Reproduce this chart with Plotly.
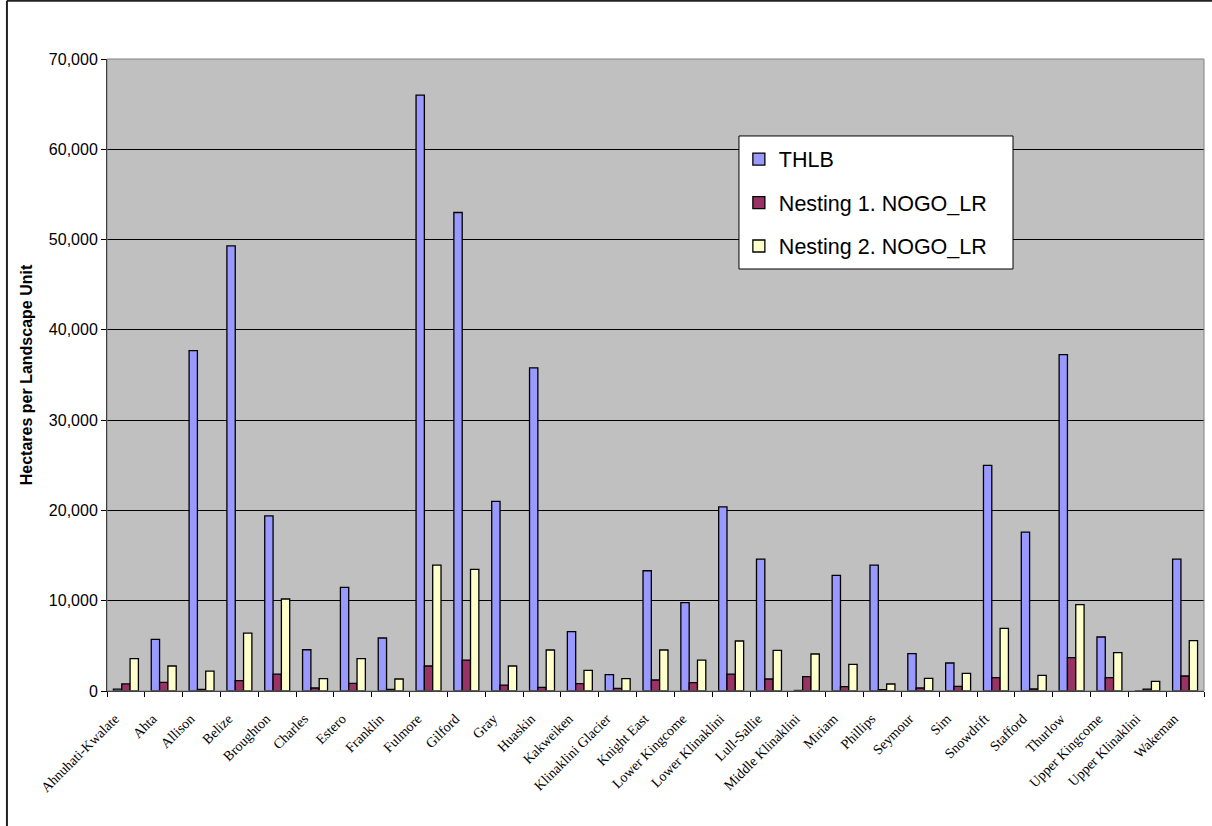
import plotly.graph_objects as go

units = [
    "Ahnuhati-Kwalate", "Ahta", "Allison", "Belize", "Broughton", "Charles",
    "Estero", "Franklin", "Fulmore", "Gilford", "Gray", "Huaskin", "Kakweiken",
    "Klinaklini Glacier", "Knight East", "Lower Kingcome", "Lower Klinaklini",
    "Lull-Sallie", "Middle Klinaklini", "Miriam", "Phillips", "Seymour", "Sim",
    "Snowdrift", "Stafford", "Thurlow", "Upper Kingcome", "Upper Klinaklini",
    "Wakeman",
]

thlb = [
    200, 5720, 37700, 49300, 19400, 4570,
    11480, 5870, 66000, 53000, 21000, 35800, 6570,
    1810, 13320, 9780, 20400,
    14600, 60, 12800, 13950, 4140, 3100,
    25000, 17600, 37250, 5980, 0,
    14600,
]

nesting1 = [
    780, 960, 190, 1140, 1880, 330,
    850, 190, 2770, 3430, 660, 410, 810,
    300, 1220, 920, 1880,
    1330, 1590, 480, 150, 330, 520,
    1480, 220, 3690, 1480, 200,
    1660,
]

nesting2 = [
    3580, 2770, 2210, 6420, 10190, 1360,
    3580, 1330, 13950, 13480, 2770, 4540, 2290,
    1360, 4540, 3430, 5540,
    4500, 4100, 2950, 775, 1400, 1960,
    6940, 1740, 9560, 4240, 1070,
    5570,
]

y_ticks = [0, 10000, 20000, 30000, 40000, 50000, 60000, 70000]

series = [
    ("THLB", thlb, "#9999FF"),
    ("Nesting 1. NOGO_LR", nesting1, "#993366"),
    ("Nesting 2. NOGO_LR", nesting2, "#FFFFCC"),
]

fig = go.Figure()
for name, vals, color in series:
    fig.add_trace(go.Bar(
        x=units, y=vals, name=name, legendgroup=name,
        marker=dict(color=color, line=dict(color="black", width=1.3)),
    ))

fig.update_layout(
    width=1212, height=826,
    margin=dict(l=107, r=8, t=59, b=135),
    paper_bgcolor="white",
    plot_bgcolor="#C0C0C0",
    barmode="group",
    bargap=0.34,
    bargroupgap=0,
    showlegend=True,
    legend=dict(
        x=0.576, y=0.874, xanchor="left", yanchor="top",
        bgcolor="rgba(0,0,0,0)", borderwidth=0,
        font=dict(family="Liberation Sans, Arial", size=21.5, color="black"),
        tracegroupgap=12.5,
        itemwidth=30,
    ),
    font=dict(family="Liberation Sans, Arial", color="black"),
)

fig.update_xaxes(
    type="category",
    tickangle=-45,
    tickfont=dict(family="Liberation Serif, Times New Roman", size=14, color="black"),
    ticks="outside", tickson="boundaries", ticklen=5, tickcolor="black",
    ticklabelstandoff=13, ticklabelshift=-11,
    showline=True, linecolor="black", linewidth=1,
    showgrid=False,
)

fig.update_yaxes(
    range=[0, 70000],
    tickvals=y_ticks,
    tickformat=",",
    tickfont=dict(family="Liberation Sans, Arial", size=16, color="black"),
    ticks="outside", ticklen=5, tickcolor="black",
    showline=True, linecolor="black", linewidth=1,
    showgrid=True, gridcolor="black", gridwidth=1,
    zeroline=False,
    title=dict(
        text="<b>Hectares per Landscape Unit</b>",
        font=dict(family="Liberation Sans, Arial", size=16, color="black"),
        standoff=12,
    ),
)

# plot-area frame
fig.add_shape(type="rect", xref="paper", yref="paper", x0=0, y0=0, x1=1, y1=1,
              line=dict(color="#808080", width=1), layer="above")
# legend box
fig.add_shape(type="rect", xref="paper", yref="paper",
              x0=0.5761, y0=0.6677, x1=0.8259, y1=0.8782,
              fillcolor="white", line=dict(color="black", width=1), layer="above")
# outer chart frame (left and top edges)
fig.add_shape(type="line", xref="paper", yref="paper",
              x0=-0.0912, y0=-0.22, x1=-0.0912, y1=1.092,
              line=dict(color="#222222", width=2))
fig.add_shape(type="line", xref="paper", yref="paper",
              x0=-0.0912, y0=1.092, x1=1.01, y1=1.092,
              line=dict(color="#222222", width=2))

fig.write_html("out.html")
